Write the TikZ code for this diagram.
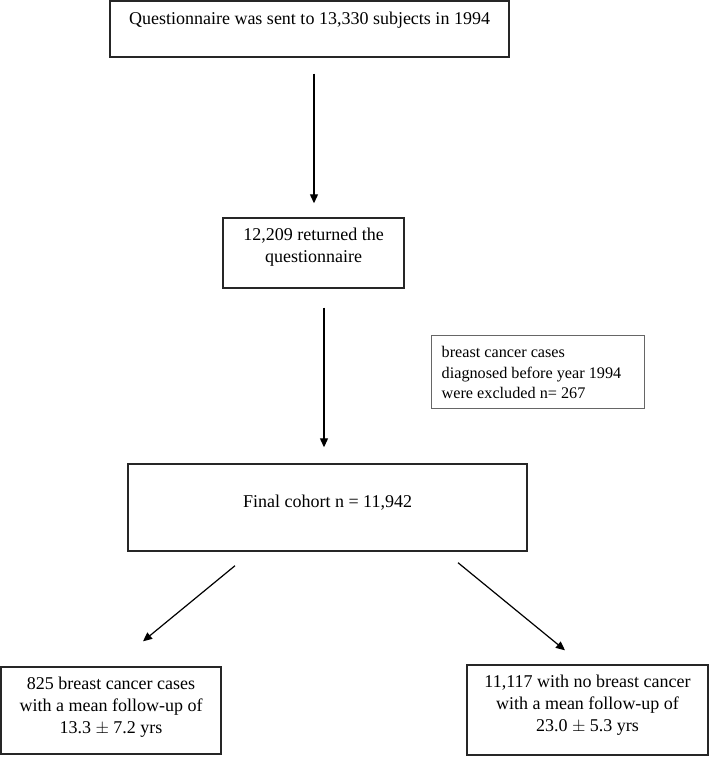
\documentclass[tikz,border=0pt]{standalone}
\usepackage{fontspec}
\setmainfont{Liberation Serif}
\usetikzlibrary{arrows.meta,calc}
\begin{document}
\begin{tikzpicture}[x=1pt,y=-1pt,
  box/.style={draw=black!85,line width=1.4pt,inner sep=0pt},
  grbox/.style={draw=black!60,line width=1pt,inner sep=0pt},
  txt/.style={align=center,inner sep=0pt,font=\fontsize{18pt}{22pt}\selectfont},
  smalltxt/.style={align=left,inner sep=0pt,font=\fontsize{16.2pt}{20.5pt}\selectfont},
  arr/.style={line width=1.2pt,-{Triangle[length=9pt,width=8pt]}}]
\useasboundingbox (0,0) rectangle (709,757);
% boxes
\node[box,minimum width=399pt,minimum height=56pt] (b1) at (309.5,29) {};
\node[txt] (t1) at ([yshift=9pt]b1.center) {Questionnaire was sent to 13,330 subjects in 1994};
\node[box,minimum width=181pt,minimum height=70pt] (b2) at (313.5,253) {};
\node[txt] (t2) at ([yshift=6pt]b2.center) {12,209 returned the\\questionnaire};
\node[grbox,minimum width=213pt,minimum height=73pt] (bx) at (537.5,371.5) {};
\node[smalltxt,anchor=west] (tx) at ([xshift=11pt,yshift=-1pt]bx.west) {breast cancer cases\\diagnosed before year 1994\\were excluded n= 267};
\node[box,minimum width=399pt,minimum height=87pt] (b3) at (327.5,507.5) {};
\node[txt] (t3) at ([yshift=4.5pt]b3.center) {Final cohort n = 11,942};
\node[box,minimum width=220pt,minimum height=87pt] (b4) at (111,710.5) {};
\node[txt] (t4) at ([yshift=3.5pt]b4.center) {825 breast cancer cases\\with a mean follow-up of\\13.3 $\pm$ 7.2 yrs};
\node[box,minimum width=241pt,minimum height=90pt] (b5) at (587.5,710) {};
\node[txt] (t5) at ([yshift=5pt]b5.center) {11,117 with no breast cancer\\with a mean follow-up of\\23.0 $\pm$ 5.3 yrs};
% arrows
\draw[arr] ($(b1.south)+(4.5,16)$) -- ($(b2.north)+(0.5,-14)$);
\draw[arr] ($(b2.south)+(10.5,19)$) -- ($(b3.north)+(-3.5,-16)$);
\draw[arr] ($(b3.south)+(-92.5,14)$) -- ($(b4.north)+(32,-25)$);
\draw[arr] ($(b3.south)+(130.5,11)$) -- ($(b5.north)+(-22.5,-14)$);
\end{tikzpicture}
\end{document}
